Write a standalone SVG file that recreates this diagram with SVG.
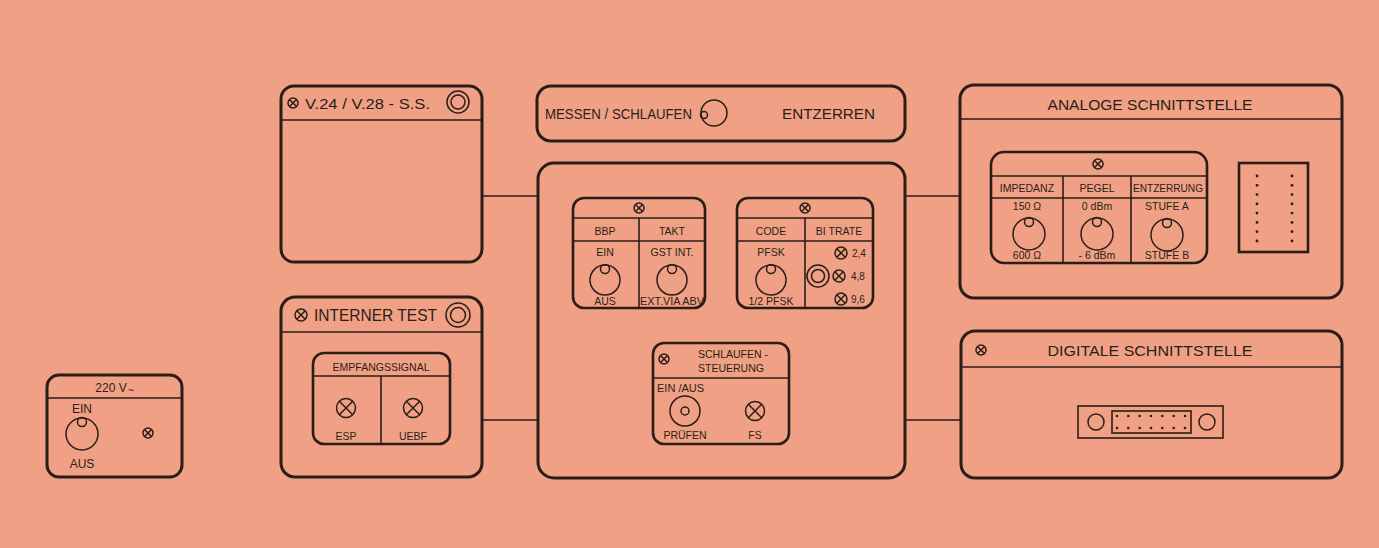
<svg xmlns="http://www.w3.org/2000/svg" xmlns:xlink="http://www.w3.org/1999/xlink" width="1379" height="548" viewBox="0 0 1379 548">
<style>
.box{fill:none;stroke:#2b1d17;stroke-width:3}
.ibox{fill:none;stroke:#2b1d17;stroke-width:2.6}
.ln{fill:none;stroke:#2b1d17;stroke-width:1.6}
.thin{fill:none;stroke:#2b1d17;stroke-width:1.5}
.conn{fill:none;stroke:#2b1d17;stroke-width:1.5}
.dot{fill:#2b1d17}
text{font-family:"Liberation Sans","DejaVu Sans",sans-serif;fill:#2b1d17}
.t14{font-size:15px}
.t10{font-size:10.5px;text-anchor:middle}
.t11{font-size:12px;text-anchor:middle}
</style>
<defs>
<g id="lampS"><circle r="5" class="thin"/><path d="M-3.5,-3.5L3.5,3.5M-3.5,3.5L3.5,-3.5" class="thin"/></g>
<g id="lampM"><circle r="6" class="thin"/><path d="M-4.2,-4.2L4.2,4.2M-4.2,4.2L4.2,-4.2" class="thin"/></g>
<g id="lampL"><circle r="9.5" class="thin"/><path d="M-6.7,-6.7L6.7,6.7M-6.7,6.7L6.7,-6.7" class="thin"/></g>
<g id="knob"><circle r="15" class="thin"/><circle cy="-11" r="4.5" class="thin"/></g>
<g id="knobL"><circle r="16" class="thin"/><circle cy="-12" r="4.5" class="thin"/></g>
</defs>
<rect width="1379" height="548" fill="#F0A185"/>

<g id="connectors">
<line x1="482" y1="196" x2="538" y2="196" class="conn"/>
<line x1="482" y1="420" x2="538" y2="420" class="conn"/>
<line x1="905" y1="196" x2="960" y2="196" class="conn"/>
<line x1="905" y1="420" x2="961" y2="420" class="conn"/>
</g>

<g id="power">
<rect x="47" y="375" width="135" height="102" rx="12" class="box"/>
<line x1="47" y1="398" x2="182" y2="398" class="ln"/>
<text x="111" y="392" class="t11">220 V</text>
<text x="131" y="394" font-size="10" text-anchor="middle">~</text>
<text x="82" y="413" class="t11">EIN</text>
<use xlink:href="#knobL" x="82" y="434"/>
<text x="82" y="468" class="t11">AUS</text>
<use xlink:href="#lampS" x="148" y="433"/>
</g>

<g id="v24">
<rect x="281" y="86" width="201" height="176" rx="13" class="box"/>
<line x1="281" y1="120" x2="482" y2="120" class="ln"/>
<use xlink:href="#lampS" x="293" y="103"/>
<text x="305" y="109" font-size="15" textLength="125" lengthAdjust="spacingAndGlyphs">V.24 / V.28 - S.S.</text>
<circle cx="458" cy="102" r="11" class="thin" stroke-width="1.7"/>
<circle cx="458" cy="102" r="7" class="thin" stroke-width="1.7"/>
</g>

<g id="interner">
<rect x="281" y="297" width="201" height="180" rx="14" class="box"/>
<line x1="281" y1="332" x2="482" y2="332" class="ln"/>
<use xlink:href="#lampM" x="301" y="315"/>
<text x="314" y="321" font-size="17" textLength="123" lengthAdjust="spacingAndGlyphs">INTERNER TEST</text>
<circle cx="458" cy="315" r="12" class="thin" stroke-width="1.7"/>
<circle cx="458" cy="315" r="7.5" class="thin" stroke-width="1.7"/>
<g id="empfang">
<rect x="313" y="353" width="137" height="91" rx="11" class="ibox"/>
<line x1="313" y1="376" x2="450" y2="376" class="ln"/>
<line x1="381" y1="376" x2="381" y2="444" class="ln"/>
<text x="381" y="371" class="t10" textLength="97" lengthAdjust="spacingAndGlyphs">EMPFANGSSIGNAL</text>
<use xlink:href="#lampL" x="346" y="408"/>
<use xlink:href="#lampL" x="413" y="408"/>
<text x="346" y="440" class="t10" font-size="11">ESP</text>
<text x="413" y="440" class="t10" font-size="11">UEBF</text>
</g>
</g>

<g id="messen">
<rect x="537" y="86" width="368" height="55" rx="14" class="box"/>
<text x="545" y="119" font-size="15" textLength="147" lengthAdjust="spacingAndGlyphs">MESSEN / SCHLAUFEN</text>
<circle cx="714" cy="113" r="13" class="thin" stroke-width="1.7"/>
<circle cx="704" cy="115" r="3.5" class="thin"/>
<text x="782" y="119" font-size="15" textLength="93" lengthAdjust="spacingAndGlyphs">ENTZERREN</text>
</g>

<g id="zentral">
<rect x="538" y="163" width="367" height="315" rx="16" class="box"/>
</g>

<g id="bbp">
<rect x="573" y="198" width="132" height="110" rx="11" class="ibox"/>
<line x1="573" y1="218" x2="705" y2="218" class="ln"/>
<line x1="573" y1="241" x2="705" y2="241" class="ln"/>
<line x1="639" y1="218" x2="639" y2="308" class="ln"/>
<use xlink:href="#lampS" x="639" y="208"/>
<text x="605" y="235" class="t10">BBP</text>
<text x="672" y="235" class="t10">TAKT</text>
<text x="605" y="256" class="t10">EIN</text>
<text x="672" y="256" class="t10">GST INT.</text>
<use xlink:href="#knob" x="605" y="280"/>
<use xlink:href="#knob" x="672" y="280"/>
<text x="605" y="305" class="t10">AUS</text>
<text x="672" y="305" class="t10" textLength="64" lengthAdjust="spacingAndGlyphs">EXT.VIA ABV</text>
</g>

<g id="code">
<rect x="737" y="198" width="136" height="110" rx="11" class="ibox"/>
<line x1="737" y1="218" x2="873" y2="218" class="ln"/>
<line x1="737" y1="241" x2="873" y2="241" class="ln"/>
<line x1="805" y1="218" x2="805" y2="308" class="ln"/>
<use xlink:href="#lampS" x="805" y="208"/>
<text x="771" y="235" class="t10">CODE</text>
<text x="839" y="235" class="t10">BI TRATE</text>
<text x="771" y="256" class="t10">PFSK</text>
<use xlink:href="#knob" x="771" y="280"/>
<text x="771" y="305" class="t10">1/2 PFSK</text>
<circle cx="818" cy="276" r="11" class="thin" stroke-width="1.7"/>
<circle cx="818" cy="276" r="6.5" class="thin" stroke-width="1.7"/>
<use xlink:href="#lampM" x="841" y="253"/>
<use xlink:href="#lampM" x="839" y="276"/>
<use xlink:href="#lampM" x="841" y="299"/>
<text x="852" y="257" font-size="10">2,4</text>
<text x="851" y="280" font-size="10">4,8</text>
<text x="851" y="303" font-size="10">9,6</text>
</g>

<g id="schlaufen">
<rect x="653" y="343" width="136" height="101" rx="11" class="ibox"/>
<line x1="653" y1="378" x2="789" y2="378" class="ln"/>
<use xlink:href="#lampS" x="664" y="359"/>
<text x="733" y="358" class="t10" font-size="11">SCHLAUFEN -</text>
<text x="731" y="372" class="t10" font-size="11">STEUERUNG</text>
<text x="657" y="392" font-size="11">EIN /AUS</text>
<circle cx="685" cy="411" r="15" class="thin"/>
<circle cx="685" cy="411" r="4" class="thin"/>
<use xlink:href="#lampL" x="755" y="411"/>
<text x="685" y="439" class="t10" font-size="11">PRÜFEN</text>
<text x="755" y="439" class="t10" font-size="11">FS</text>
</g>

<g id="analog">
<rect x="960" y="85" width="382" height="213" rx="14" class="box"/>
<line x1="960" y1="119" x2="1342" y2="119" class="ln"/>
<text x="1150" y="110" class="t14" text-anchor="middle" textLength="205" lengthAdjust="spacingAndGlyphs">ANALOGE SCHNITTSTELLE</text>
<g id="analog-ctrl">
<rect x="991" y="152" width="216" height="111" rx="13" class="ibox"/>
<line x1="991" y1="176" x2="1207" y2="176" class="ln"/>
<line x1="991" y1="198" x2="1207" y2="198" class="ln"/>
<line x1="1063" y1="176" x2="1063" y2="263" class="ln"/>
<line x1="1131" y1="176" x2="1131" y2="263" class="ln"/>
<use xlink:href="#lampS" x="1098" y="164"/>
<text x="1027" y="192" class="t10">IMPEDANZ</text>
<text x="1097" y="192" class="t10">PEGEL</text>
<text x="1168" y="192" class="t10" textLength="70" lengthAdjust="spacingAndGlyphs">ENTZERRUNG</text>
<text x="1027" y="210" class="t10">150 Ω</text>
<text x="1097" y="210" class="t10">0 dBm</text>
<text x="1167" y="210" class="t10">STUFE A</text>
<use xlink:href="#knobL" x="1029" y="234"/>
<use xlink:href="#knobL" x="1097" y="234"/>
<use xlink:href="#knobL" x="1167" y="235"/>
<text x="1027" y="259" class="t10">600 Ω</text>
<text x="1097" y="259" class="t10">- 6 dBm</text>
<text x="1167" y="259" class="t10">STUFE B</text>
</g>
<g id="analog-conn">
<rect x="1239" y="163" width="69" height="89" class="ibox"/>
<g class="dot">
<circle cx="1257" cy="176" r="1.4"/><circle cx="1257" cy="185.3" r="1.4"/><circle cx="1257" cy="194.6" r="1.4"/><circle cx="1257" cy="203.9" r="1.4"/><circle cx="1257" cy="213.1" r="1.4"/><circle cx="1257" cy="222.4" r="1.4"/><circle cx="1257" cy="231.7" r="1.4"/><circle cx="1257" cy="241" r="1.4"/>
<circle cx="1292" cy="176" r="1.4"/><circle cx="1292" cy="185.3" r="1.4"/><circle cx="1292" cy="194.6" r="1.4"/><circle cx="1292" cy="203.9" r="1.4"/><circle cx="1292" cy="213.1" r="1.4"/><circle cx="1292" cy="222.4" r="1.4"/><circle cx="1292" cy="231.7" r="1.4"/><circle cx="1292" cy="241" r="1.4"/>
</g>
</g>
</g>

<g id="digital">
<rect x="961" y="331" width="381" height="147" rx="14" class="box"/>
<line x1="961" y1="367" x2="1342" y2="367" class="ln"/>
<use xlink:href="#lampS" x="981" y="350"/>
<text x="1150" y="356" class="t14" text-anchor="middle" textLength="205" lengthAdjust="spacingAndGlyphs">DIGITALE SCHNITTSTELLE</text>
<g id="digital-conn">
<rect x="1078" y="406" width="145" height="32" class="ln" stroke-width="1.8"/>
<circle cx="1096" cy="422" r="8" class="thin"/>
<circle cx="1207" cy="422" r="8" class="thin"/>
<rect x="1112" y="411" width="79" height="22" class="ln" stroke-width="1.8"/>
<g class="dot">
<circle cx="1117" cy="416" r="1.3"/><circle cx="1128.3" cy="416" r="1.3"/><circle cx="1139.7" cy="416" r="1.3"/><circle cx="1151" cy="416" r="1.3"/><circle cx="1162.3" cy="416" r="1.3"/><circle cx="1173.7" cy="416" r="1.3"/><circle cx="1185" cy="416" r="1.3"/>
<circle cx="1117" cy="428" r="1.3"/><circle cx="1128.3" cy="428" r="1.3"/><circle cx="1139.7" cy="428" r="1.3"/><circle cx="1151" cy="428" r="1.3"/><circle cx="1162.3" cy="428" r="1.3"/><circle cx="1173.7" cy="428" r="1.3"/><circle cx="1185" cy="428" r="1.3"/>
</g>
</g>
</g>
</svg>
